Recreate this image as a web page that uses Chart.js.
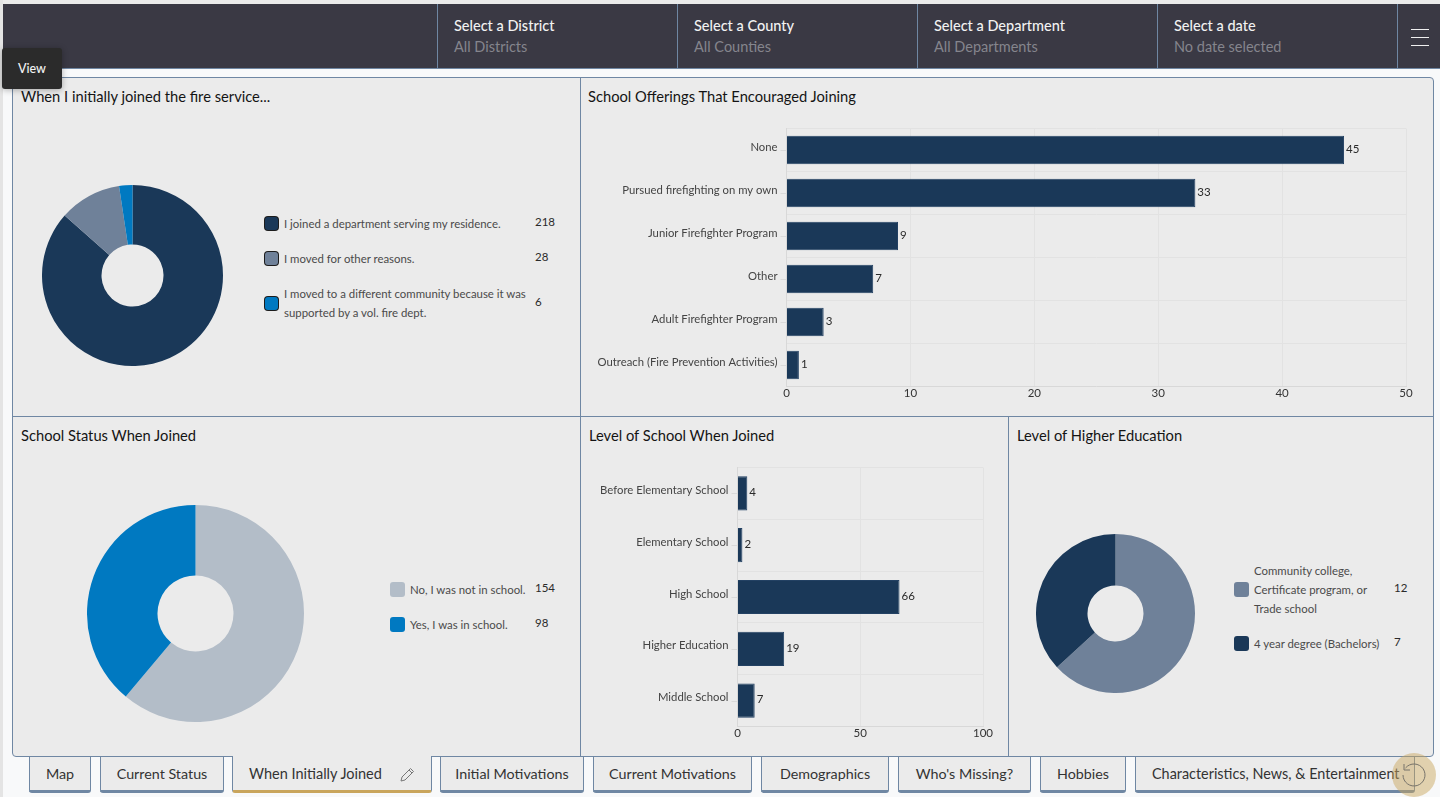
<!DOCTYPE html>
<html>
<head>
<meta charset="utf-8">
<title>When Initially Joined</title>
<script src="https://cdn.jsdelivr.net/npm/chart.js@4"></script>
<style>
  html, body { margin: 0; padding: 0; width: 1440px; height: 797px; overflow: hidden; background: #f8f9fa; font-family: Lato, sans-serif; }
  .abs { position: absolute; }
  #stripTop { left: 0; top: 0; width: 1440px; height: 4px; background: #ebebeb; }
  #stripLeft { left: 0; top: 0; width: 3px; height: 797px; background: #e4e4e4; }
  #header { left: 3px; top: 4px; width: 1437px; height: 64px; background: #3a3944; border-bottom: 1px solid #6f87a3; }
  .filter { position: absolute; top: 0; width: 239px; height: 64px; border-left: 1px solid #6f87a3; }
  .filter b { position: absolute; left: 16px; top: 12.5px; font-size: 14.5px; font-weight: 500; color: #f2f2f2; white-space: nowrap; }
  .filter span { position: absolute; left: 16px; top: 33.5px; font-size: 14.5px; color: #85858d; white-space: nowrap; }
  #menu { position: absolute; left: 1394px; top: 0; width: 42px; height: 64px; border-left: 1px solid #6f87a3; }
  #menu i { position: absolute; left: 13px; width: 18px; height: 1px; background: #f0f0f0; }
  #grid { left: 12px; top: 77px; width: 1420px; height: 678px; background: #ebebeb; border: 1px solid #6f87a3; border-radius: 4px; }
  .line { position: absolute; background: #6f87a3; }
  .title { position: absolute; font-size: 14.7px; color: #141414; white-space: nowrap; }
  .swatch { position: absolute; border-radius: 3px; }
  .legText { position: absolute; font-size: 11.4px; line-height: 19px; color: #4a4a4a; white-space: pre-line; transform: translateY(-50%); }
  .legVal { position: absolute; font-size: 11.5px; color: #2a2a2a; transform: translateY(-50%); }
  canvas { position: absolute; }
  .tab { position: absolute; top: 757px; height: 33px; box-sizing: content-box; background: #ebebeb; border: 1px solid #6f87a3; border-top: 0; border-bottom: 3px solid #6f87a3; border-radius: 0 0 3px 3px; font-size: 14.3px; color: #333; line-height: 34px; text-align: center; white-space: nowrap; }
  .tab.active { background: #ebebeb; border-bottom-color: #c9a55c; top: 756px; height: 34px; text-align: left; text-indent: 16px; font-size: 14.5px; line-height: 36px; }
  .tab.last { text-align: left; text-indent: 16px; font-size: 14.4px; }
  #tip { left: 2px; top: 48px; width: 60px; height: 41px; background: #2b2b2b; border-radius: 3px; color: #f2f2f2; font-size: 12.5px; font-weight: 500; line-height: 41px; text-align: center; box-shadow: 0 1px 6px rgba(0,0,0,.3); }
  #history { left: 1392px; top: 753px; width: 44px; height: 44px; }
</style>
</head>
<body>
<div class="abs" id="stripTop"></div>
<div class="abs" id="stripLeft"></div>
<div class="abs" id="header"><div id="menu"><i style="top:25px"></i><i style="top:33px"></i><i style="top:41px"></i></div></div>
<div class="abs" id="grid"></div>
<div id="root"></div>
<div class="abs" id="tip">View</div>
<svg class="abs" id="history" viewBox="0 0 44 44">
  <circle cx="22" cy="22" r="22" fill="rgba(201,165,92,.48)"/>
  <path d="M13.5 15 A11 11 0 1 1 11 22" fill="none" stroke="#77736a" stroke-width="1"/>
  <path d="M12 11 L12 17 L18 17" fill="none" stroke="#77736a" stroke-width="1"/>
</svg>

<script>
  const NAVY = "#1a3858";
  const SLATE = "#6f8199";
  const BLUE = "#0079c1";
  const SILVER = "#b3bdc8";

  const filterTitles = ["Select a District", "Select a County", "Select a Department", "Select a date"];
  const filterValues = ["All Districts", "All Counties", "All Departments", "No date selected"];

  const tabNames = ["Map", "Current Status", "When Initially Joined", "Initial Motivations", "Current Motivations", "Demographics", "Who's Missing?", "Hobbies", "Characteristics, News, & Entertainment"];

  const joinedLabels = ["I joined a department serving my residence.", "I moved for other reasons.", "I moved to a different community because it was\nsupported by a vol. fire dept."];
  const joinedValues = [218, 28, 6];

  const offeringLabels = ["None", "Pursued firefighting on my own", "Junior Firefighter Program", "Other", "Adult Firefighter Program", "Outreach (Fire Prevention Activities)"];
  const offeringValues = [45, 33, 9, 7, 3, 1];

  const statusLabels = ["No, I was not in school.", "Yes, I was in school."];
  const statusValues = [154, 98];

  const levelLabels = ["Before Elementary School", "Elementary School", "High School", "Higher Education", "Middle School"];
  const levelValues = [4, 2, 66, 19, 7];

  const higherLabels = ["Community college,\nCertificate program, or\nTrade school", "4 year degree (Bachelors)"];
  const higherValues = [12, 7];

  const root = document.querySelector("#root");
  const header = document.querySelector("#header");

  filterTitles.forEach((title, i) => {
    const elm = document.createElement("div");
    elm.className = "filter";
    elm.style.left = 434 + i * 240 + "px";
    elm.innerHTML = "<b>" + title + "</b><span>" + filterValues[i] + "</span>";
    header.appendChild(elm);
  });

  // panel dividers
  function addLine(x, y, w, h) {
    const elm = document.createElement("div");
    elm.className = "line abs";
    elm.style.cssText = "left:" + x + "px;top:" + y + "px;width:" + w + "px;height:" + h + "px";
    root.appendChild(elm);
  }
  addLine(580, 77, 1, 679);
  addLine(12, 416, 1421, 1);
  addLine(1008, 416, 1, 340);

  function addTitle(text, x, y) {
    const elm = document.createElement("div");
    elm.className = "title";
    elm.style.left = x + "px";
    elm.style.top = y + "px";
    elm.textContent = text;
    root.appendChild(elm);
  }
  addTitle("When I initially joined the fire service...", 21, 86.5);
  addTitle("School Offerings That Encouraged Joining", 588, 86.5);
  addTitle("School Status When Joined", 21, 425.5);
  addTitle("Level of School When Joined", 589, 425.5);
  addTitle("Level of Higher Education", 1017, 425.5);

  const tabLefts = [29, 100, 232, 440, 593, 761, 898, 1040, 1135];
  const tabWidths = [60, 122, 198, 142, 157, 126, 131, 84, 278];
  tabNames.forEach((name, i) => {
    const elm = document.createElement("div");
    elm.className = "tab";
    if (i === 2) elm.classList.add("active");
    if (i === tabNames.length - 1) elm.classList.add("last");
    elm.style.left = tabLefts[i] + "px";
    elm.style.width = tabWidths[i] + "px";
    elm.textContent = name;
    root.appendChild(elm);
  });
  // pencil on the active tab
  root.insertAdjacentHTML("beforeend", '<svg class="abs" style="left:399px;top:767px" width="16" height="16" viewBox="0 0 16 16"><path d="M2 14 L3 10 L11.5 1.5 L14.5 4.5 L6 13 Z M10 3 L13 6" fill="none" stroke="#777" stroke-width="1"/></svg>');

  function addLegend(labels, values, colors, opt) {
    labels.forEach((label, i) => {
      const swatch = document.createElement("div");
      swatch.className = "swatch";
      swatch.style.background = colors[i];
      if (opt.outlined) {
        swatch.style.cssText += "left:" + opt.swatchX + "px;top:" + (opt.rows[i] - 7) + "px;width:13px;height:13px;box-shadow:0 0 0 1px #1c1c1c";
      } else {
        swatch.style.cssText += "left:" + (opt.swatchX - 1) + "px;top:" + (opt.rows[i] - 8) + "px;width:15px;height:15px";
      }
      root.appendChild(swatch);

      const text = document.createElement("div");
      text.className = "legText";
      text.style.left = opt.swatchX + 19 + "px";
      text.style.top = opt.rows[i] - 1 + "px";
      text.textContent = label;
      root.appendChild(text);

      const val = document.createElement("div");
      val.className = "legVal";
      val.style.left = opt.valueX + "px";
      val.style.top = opt.rows[i] - 3 + "px";
      val.textContent = values[i];
      root.appendChild(val);
    });
  }

  function addDonut(labels, values, colors, cx, cy, r, hole) {
    const canvas = document.createElement("canvas");
    canvas.width = r * 2;
    canvas.height = r * 2;
    canvas.style.left = cx - r + "px";
    canvas.style.top = cy - r + "px";
    root.appendChild(canvas);
    new Chart(canvas.getContext("2d"), {
      type: "doughnut",
      data: { labels: labels, datasets: [{ data: values, backgroundColor: colors, borderWidth: 0 }] },
      options: {
        responsive: false,
        animation: false,
        cutout: hole,
        plugins: { legend: { display: false }, tooltip: { enabled: false } },
      },
    });
  }

  // value next to each bar, tick marks at the band centres
  const barExtras = {
    id: "barExtras",
    afterDatasetsDraw(chart) {
      const ctx = chart.ctx;
      const yScale = chart.scales.y;
      ctx.save();
      ctx.strokeStyle = "#d9d9d9";
      ctx.lineWidth = 1;
      yScale.ticks.forEach((t, i) => {
        const y = Math.round(yScale.getPixelForTick(i)) + 0.5;
        ctx.beginPath();
        ctx.moveTo(chart.chartArea.left - 6, y);
        ctx.lineTo(chart.chartArea.left, y);
        ctx.stroke();
      });
      ctx.fillStyle = "#2a2a2a";
      ctx.font = "11.5px Lato";
      ctx.textBaseline = "middle";
      chart.getDatasetMeta(0).data.forEach((bar, i) => {
        ctx.fillText(chart.data.datasets[0].data[i], bar.x + 2, bar.y - 1);
      });
      ctx.restore();
    },
  };

  function addBars(labels, values, box, plot, maxX, stepX) {
    const canvas = document.createElement("canvas");
    canvas.width = box.w;
    canvas.height = box.h;
    canvas.style.left = box.x + "px";
    canvas.style.top = box.y + "px";
    root.appendChild(canvas);
    new Chart(canvas.getContext("2d"), {
      type: "bar",
      data: {
        labels: labels,
        datasets: [{ data: values, backgroundColor: NAVY, borderColor: "#234163", borderWidth: 1, categoryPercentage: 1, barPercentage: 0.66 }],
      },
      plugins: [barExtras],
      options: {
        indexAxis: "y",
        responsive: false,
        animation: false,
        layout: { padding: { top: plot.top - box.y, right: box.x + box.w - plot.right, left: 0, bottom: 0 } },
        plugins: { legend: { display: false }, tooltip: { enabled: false } },
        scales: {
          x: {
            min: 0,
            max: maxX,
            afterFit(scale) { scale.height = box.y + box.h - plot.bottom; },
            grid: { color: "#e2e2e2", drawTicks: false },
            border: { color: "#d8d8d8" },
            ticks: { stepSize: stepX, color: "#333", font: { family: "Lato", size: 11.5 }, padding: 0, maxRotation: 0 },
          },
          y: {
            afterFit(scale) {
              scale.width = plot.left - box.x;
              // keep the label margins from pushing the plot down
              scale.paddingTop = 0;
              scale.paddingBottom = 0;
            },
            grid: { color: "#e2e2e2", drawTicks: false, offset: true },
            border: { color: "#d8d8d8" },
            ticks: { color: "#444", font: { family: "Lato", size: 11.3 }, padding: 9, labelOffset: -3, autoSkip: false },
          },
        },
      },
    });
  }

  const joinedColors = [NAVY, SLATE, BLUE];
  addDonut(joinedLabels, joinedValues, joinedColors, 132.5, 275, 90.5, 31);
  addLegend(joinedLabels, joinedValues, joinedColors, { swatchX: 265, valueX: 535, rows: [224, 259, 304], outlined: true });

  addBars(offeringLabels, offeringValues, { x: 581, y: 118, w: 851, h: 292 }, { left: 786.5, right: 1406, top: 128.5, bottom: 386.5 }, 50, 10);

  const statusColors = [SILVER, BLUE];
  addDonut(statusLabels, statusValues, statusColors, 195.5, 613.5, 108.5, 38);
  addLegend(statusLabels, statusValues, statusColors, { swatchX: 391, valueX: 535, rows: [590, 625] });

  addBars(levelLabels, levelValues, { x: 581, y: 457, w: 426, h: 292 }, { left: 737.5, right: 983, top: 467.5, bottom: 726.5 }, 100, 50);

  const higherColors = [SLATE, NAVY];
  addDonut(higherLabels, higherValues, higherColors, 1115.5, 613.5, 79.5, 28);
  addLegend(higherLabels, higherValues, higherColors, { swatchX: 1235, valueX: 1394, rows: [590, 644] });
</script>
</body>
</html>
